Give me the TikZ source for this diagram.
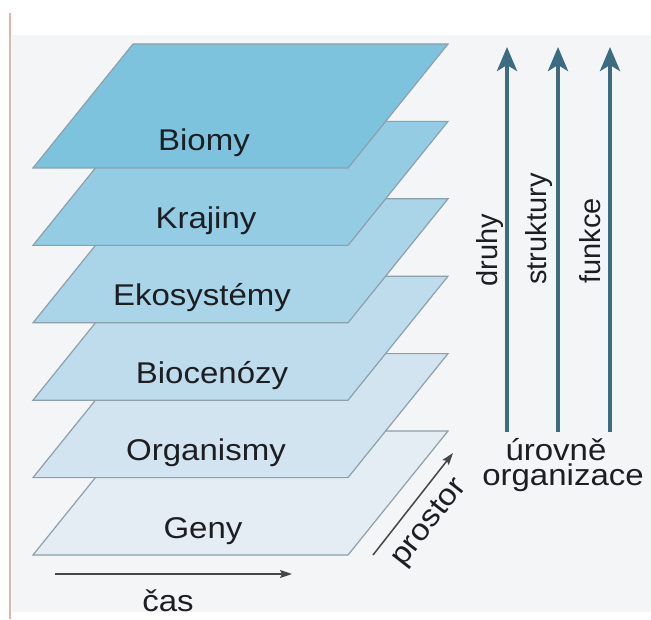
\documentclass[tikz,border=0pt]{standalone}
\usepackage{fontspec}
\setmainfont{Liberation Sans}[FakeStretch=1.1]
\newfontfamily\rotada{Liberation Sans}
\usetikzlibrary{arrows.meta}

\definecolor{tono0}{RGB}{227,237,243}
\definecolor{tono1}{RGB}{209,228,239}
\definecolor{tono2}{RGB}{190,220,235}
\definecolor{tono3}{RGB}{170,212,231}
\definecolor{tono4}{RGB}{148,204,228}
\definecolor{tono5}{RGB}{126,195,222}
\definecolor{borde}{RGB}{140,160,172}
\definecolor{azul}{RGB}{60,108,130}
\definecolor{gris}{RGB}{70,70,70}
\definecolor{texto}{RGB}{28,30,34}
\definecolor{fondo}{RGB}{243,245,246}
\definecolor{marco}{RGB}{225,180,168}

\begin{document}
\begin{tikzpicture}[x=0.5pt,y=-0.5pt,
    capa/.style={draw=borde,line width=0.6pt},
    etiqueta/.style={text=texto,inner sep=0pt,font=\fontsize{15}{18}\selectfont},
    girada/.style={text=texto,inner sep=0pt,rotate=90,anchor=west,font=\rotada\fontsize{14.5}{17}\selectfont},
    flecha/.style={draw=azul,line width=2pt,-{Stealth[length=12pt,width=10pt,inset=3pt]}},
    eje/.style={draw=gris,line width=0.75pt,-{Stealth[length=6pt,width=4pt,inset=1pt]}}]
    \useasboundingbox (0,0) rectangle (651,619);
    \fill[fondo] (12,35) rectangle (651,612); % fondo
    \draw[marco,line width=1pt] (10,13) -- (10,619); % borde izq.
    % capas, de abajo hacia arriba
    \foreach \i/\nombre/\xt in {0/Geny/203,1/Organismy/206,2/Biocenózy/212,3/Ekosystémy/202,4/Krajiny/206,5/Biomy/204}
    {
        \pgfmathsetmacro{\yb}{555-77.4*\i}
        \draw[capa,fill=tono\i] (33,\yb) -- (348,\yb) -- (448,\yb-124) -- (133,\yb-124) -- cycle;
        \node[etiqueta,anchor=base] (nivel\i) at (\xt,\yb-17) {\nombre};
    }
    % flechas verticales
    \foreach \n/\xa/\xt/\yt in {druhy/507/490/287,struktury/558/539/285,funkce/610/590/284}
    {
        \coordinate (\n-a) at (\xa,432);
        \coordinate (\n-b) at (\xa,47);
        \draw[flecha] (\n-a) -- (\n-b);
        \node[girada] (\n) at (\xt,\yt) {\n};
    }
    \node[etiqueta,anchor=base] (urovne) at (556,460) {úrovně};
    \node[etiqueta,anchor=base] (organizace) at (563,485) {organizace};
    % eje del tiempo
    \coordinate (c0) at (55,574);
    \coordinate (c1) at (292,574);
    \draw[eje] (c0) -- (c1);
    \node[etiqueta,anchor=base] (cas) at (168,611) {čas};
    % eje del espacio
    \coordinate (p0) at (373,555);
    \coordinate (p1) at (453,453);
    \draw[eje] (p0) -- (p1);
    \node[etiqueta,rotate=52] (prostor) at (430,523) {prostor};
\end{tikzpicture}
\end{document}
